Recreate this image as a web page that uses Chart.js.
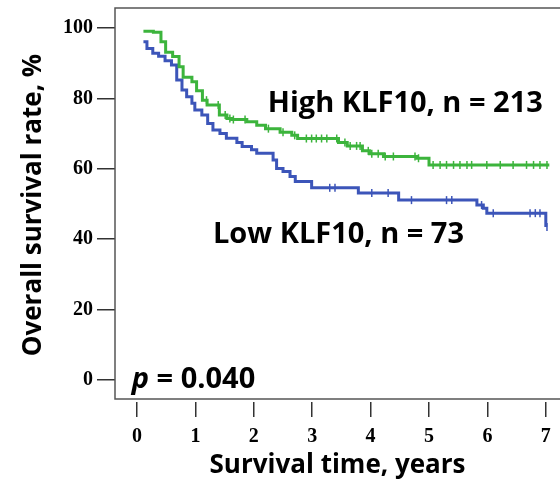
<!DOCTYPE html>
<html>
<head>
<meta charset="utf-8">
<script src="https://cdn.jsdelivr.net/npm/chart.js@4/dist/chart.umd.min.js"></script>
<style>
  body { margin: 0; background: #fff; }
  #wrap { width: 560px; height: 483px; position: relative; }
</style>
</head>
<body>
<div id="wrap"><canvas id="kmChart"></canvas></div>
<script>
// Kaplan-Meier steps (time in years, survival in %)
const highTimes = [0.11, 0.28, 0.41, 0.49, 0.61, 0.72, 0.79, 0.94, 1.02, 1.12, 1.20, 1.41, 1.54, 1.62, 1.88, 2.05, 2.20, 2.45, 2.65, 2.75, 3.45, 3.60, 3.86, 3.98, 4.22, 4.79, 5.00, 7.06];
const highSurv  = [99.1, 98.8, 96.1, 93.1, 91.9, 89.0, 86.0, 84.7, 82.2, 79.5, 78.1, 75.3, 74.3, 74.0, 73.4, 72.4, 71.4, 70.4, 69.5, 68.6, 67.5, 66.5, 65.1, 64.3, 63.5, 63.0, 61.1, 61.1];
const lowTimes  = [0.11, 0.17, 0.27, 0.37, 0.48, 0.59, 0.68, 0.77, 0.85, 0.94, 0.99, 1.11, 1.21, 1.30, 1.42, 1.53, 1.71, 1.80, 1.96, 2.05, 2.33, 2.39, 2.50, 2.62, 2.71, 2.99, 3.79, 4.48, 5.82, 5.93, 5.99, 6.99, 7.00];
const lowSurv   = [96.1, 94.2, 92.8, 92.0, 90.7, 89.5, 85.2, 82.4, 80.5, 78.6, 76.7, 75.3, 72.9, 71.0, 70.0, 68.7, 67.5, 66.3, 65.4, 64.4, 62.5, 60.1, 59.2, 57.8, 56.4, 54.6, 53.1, 51.1, 49.7, 48.8, 47.4, 47.4, 43.5];

// censored observations (tick marks)
const highCensored = [1.19, 1.39, 1.51, 1.59, 1.65, 1.85, 2.25, 2.50, 2.70, 2.90, 2.99, 3.07, 3.16, 3.25, 3.42, 3.56, 3.65, 3.76, 3.82, 3.96, 4.02, 4.13, 4.25, 4.39, 4.76, 4.82, 5.07, 5.19, 5.30, 5.42, 5.53, 5.65, 5.73, 5.99, 6.22, 6.44, 6.67, 6.79, 6.90, 7.02];
const lowCensored  = [3.30, 3.39, 4.02, 4.30, 4.70, 5.30, 5.39, 5.90, 6.10, 6.73, 6.82, 6.90, 7.02];

const xTicks = [0, 1, 2, 3, 4, 5, 6, 7];
const yTicks = [0, 20, 40, 60, 80, 100];

const greenColor = '#3cb43c';
const blueColor = '#3c55b9';

function toPoints(times, surv) {
  return times.map((t, i) => ({ x: t, y: surv[i] }));
}

// value of the step curve at time t
function survAt(times, surv, t) {
  let v = surv[0];
  for (let i = 0; i < times.length; i++) {
    if (times[i] <= t) v = surv[i];
  }
  return v;
}

function censorPoints(cens, times, surv) {
  return cens.map(t => ({ x: t, y: survAt(times, surv, t) }));
}

// no extra label padding, the frame fills the canvas
function noPad(s) {
  s.paddingTop = 0;
  s.paddingBottom = 0;
  s.paddingLeft = 0;
  s.paddingRight = 0;
}

// frame around the plot + text labels
const framePlugin = {
  id: 'frame',
  afterDraw(chart) {
    const ctx = chart.ctx;
    const a = chart.chartArea;
    const xs = chart.scales.x, ys = chart.scales.y;
    const bottom = a.bottom - 3;
    ctx.save();
    ctx.strokeStyle = '#555';
    ctx.lineWidth = 1.5;
    ctx.beginPath();
    ctx.moveTo(a.right, a.top);
    ctx.lineTo(a.left, a.top);
    ctx.lineTo(a.left, bottom);
    ctx.lineTo(a.right, bottom);
    ctx.stroke();

    ctx.fillStyle = '#000';
    ctx.textBaseline = 'alphabetic';
    ctx.textAlign = 'left';
    ctx.font = 'bold 29px "Open Sans"';
    ctx.fillText('High KLF10, n = 213', xs.getPixelForValue(2.24), ys.getPixelForValue(76.1));
    ctx.fillText('Low KLF10, n = 73', xs.getPixelForValue(1.30), ys.getPixelForValue(38.9));

    const px = xs.getPixelForValue(-0.09), py = ys.getPixelForValue(-2.3);
    ctx.font = 'italic bold 29px "Open Sans"';
    ctx.fillText('p', px, py);
    const w = ctx.measureText('p').width;
    ctx.font = 'bold 29px "Open Sans"';
    ctx.fillText(' = 0.040', px + w, py);
    ctx.restore();
  }
};

const ctx = document.getElementById('kmChart').getContext('2d');

const kmChart = new Chart(ctx, {
  type: 'line',
  data: {
    datasets: [
      {
        label: 'High KLF10',
        data: toPoints(highTimes, highSurv),
        borderColor: greenColor,
        borderWidth: 3,
        stepped: true,
        pointRadius: 0
      },
      {
        label: 'Low KLF10',
        data: toPoints(lowTimes, lowSurv),
        borderColor: blueColor,
        borderWidth: 3,
        stepped: true,
        pointRadius: 0
      },
      {
        label: 'High censored',
        data: censorPoints(highCensored, highTimes, highSurv),
        showLine: false,
        pointStyle: 'line',
        rotation: 90,
        pointRadius: 4,
        borderWidth: 1.5,
        borderColor: greenColor
      },
      {
        label: 'Low censored',
        data: censorPoints(lowCensored, lowTimes, lowSurv),
        showLine: false,
        pointStyle: 'line',
        rotation: 90,
        pointRadius: 4,
        borderWidth: 1.5,
        borderColor: blueColor
      }
    ]
  },
  options: {
    responsive: true,
    maintainAspectRatio: false,
    animation: false,
    layout: { autoPadding: false, padding: { top: 8, left: 0, right: 0, bottom: 0 } },
    plugins: {
      legend: { display: false },
      tooltip: { enabled: false }
    },
    scales: {
      x: {
        type: 'linear',
        min: -0.377,
        max: 7.243,
        afterBuildTicks: s => { s.ticks = xTicks.map(v => ({ value: v })); },
        afterFit: s => { s.height = 81; noPad(s); },
        border: { display: false },
        grid: { drawOnChartArea: false, drawTicks: true, tickLength: 15, tickColor: '#333', lineWidth: 1.5 },
        ticks: {
          padding: 8,
          color: '#000',
          font: { family: '"Liberation Serif"', size: 20, weight: 'bold' }
        },
        title: {
          display: true,
          text: 'Survival time, years',
          color: '#000',
          padding: { top: 0, bottom: 2 },
          font: { family: '"Open Sans"', size: 26, weight: 'bold' }
        }
      },
      y: {
        min: -6.25,
        max: 105.68,
        afterBuildTicks: s => { s.ticks = yTicks.map(v => ({ value: v })); },
        afterFit: s => { s.width = 115; noPad(s); },
        border: { display: false },
        grid: { drawOnChartArea: false, drawTicks: true, tickLength: 18, tickColor: '#333', lineWidth: 1.5 },
        ticks: {
          padding: 4,
          color: '#000',
          font: { family: '"Liberation Serif"', size: 20, weight: 'bold' }
        },
        title: {
          display: true,
          text: 'Overall survival rate, %',
          color: '#000',
          padding: { top: 18, bottom: 0 },
          font: { family: '"Open Sans"', size: 26, weight: 'bold' }
        }
      }
    }
  },
  plugins: [framePlugin]
});
</script>
</body>
</html>
